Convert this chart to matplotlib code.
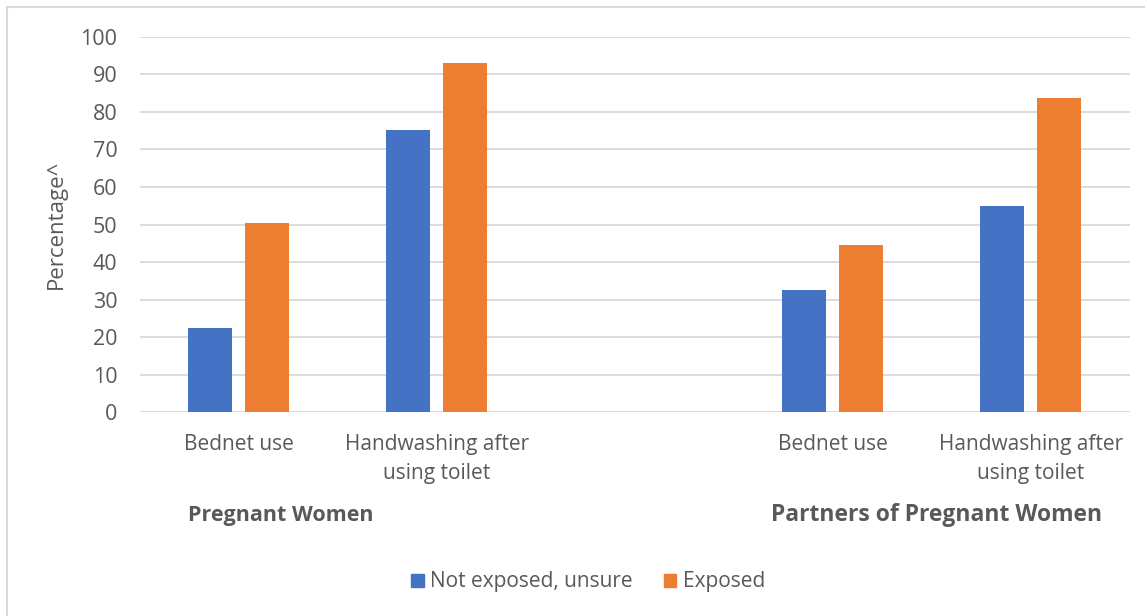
import numpy as np
import matplotlib.pyplot as plt
from matplotlib.lines import Line2D
from matplotlib.patches import Patch

# Data
categories = ['Bednet use', 'Handwashing after\nusing toilet',
              'Bednet use', 'Handwashing after\nusing toilet']
positions = [0, 1, 3, 4]          # slot 2 is left empty between the groups
not_exposed = [22.5, 75.1, 32.7, 54.9]
exposed = [50.4, 92.9, 44.7, 83.8]
groups = ['Pregnant Women', 'Partners of Pregnant Women']
group_x = [0.214, 3.524]

BLUE = '#4472C4'
ORANGE = '#ED7D31'
GREY = '#595959'

plt.rcParams['font.family'] = ['Open Sans', 'DejaVu Sans']

fig = plt.figure(figsize=(11.45, 6.16), dpi=100)
ax = fig.add_axes([0.122, 0.3304, 0.8646, 0.61])

x = np.array(positions)
w = 0.222
off = 0.1435
ax.bar(x - off, not_exposed, w, color=BLUE, zorder=3)
ax.bar(x + off, exposed, w, color=ORANGE, zorder=3)

ax.set_xlim(-0.5, 4.5)
ax.set_ylim(0, 100)
ax.set_yticks(np.arange(0, 101, 10))
ax.yaxis.grid(True, color='#D9D9D9', linewidth=1.3, zorder=0)
ax.set_axisbelow(True)
for s in ax.spines.values():
    s.set_visible(False)
ax.tick_params(axis='y', length=0, pad=16, labelsize=15.5, labelcolor=GREY)
ax.set_xticks(positions)
ax.set_xticklabels(categories, fontsize=15, color=GREY, linespacing=1.5)
ax.tick_params(axis='x', length=0, pad=15.5)
ax.set_ylabel('Percentage^', fontsize=16, color=GREY, labelpad=10)

trans = ax.get_xaxis_transform()
sizes = [15.5, 16.5]
for gx, name, fs in zip(group_x, groups, sizes):
    ax.text(gx, -0.273, name, transform=trans, ha='center', va='center',
            fontsize=fs, fontweight='bold', color=GREY)

handles = [Patch(color=BLUE), Patch(color=ORANGE)]
fig.legend(handles, ['Not exposed, unsure', 'Exposed'], loc='center',
           bbox_to_anchor=(588 / 1145, 1 - 582 / 616), ncol=2, frameon=False,
           fontsize=15, labelcolor=GREY, handlelength=0.6, handleheight=0.6,
           handletextpad=0.3, columnspacing=1.5)

# chart area border (left and top only visible)
fig.add_artist(Line2D([7 / 1145, 7 / 1145], [0, 1 - 7 / 616], color='#D9D9D9',
                      linewidth=1.5, transform=fig.transFigure))
fig.add_artist(Line2D([7 / 1145, 1], [1 - 7 / 616, 1 - 7 / 616], color='#D9D9D9',
                      linewidth=1.5, transform=fig.transFigure))

fig.savefig('out.png', dpi=100)
